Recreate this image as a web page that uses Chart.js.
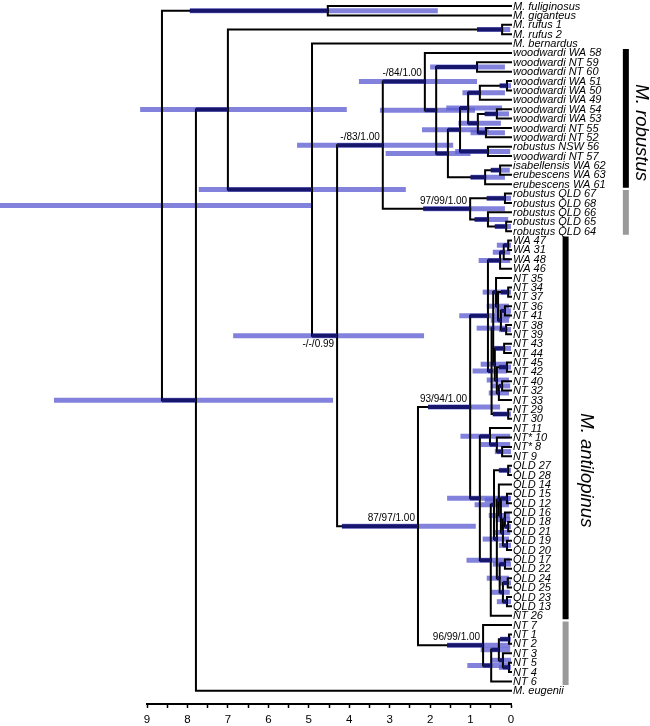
<!DOCTYPE html>
<html><head><meta charset="utf-8">
<script src="https://cdn.jsdelivr.net/npm/chart.js@4.4.0/dist/chart.umd.min.js"></script>
<style>html,body{margin:0;padding:0;background:#fff;}#wrap{width:650px;height:726px;position:relative;}</style>
</head><body><div id="wrap"><canvas id="c" width="650" height="726"></canvas></div>
<script>
// ---------------- DATA ----------------
const tipLabels = [
 'M. fuliginosus','M. giganteus','M. rufus 1','M. rufus 2','M. bernardus',
 'woodwardi WA 58','woodwardi NT 59','woodwardi NT 60','woodwardi WA 51','woodwardi WA 50',
 'woodwardi WA 49','woodwardi WA 54','woodwardi WA 53','woodwardi NT 55','woodwardi NT 52',
 'robustus NSW 56','woodwardi NT 57','isabellensis WA 62','erubescens WA 63','erubescens WA 61',
 'robustus QLD 67','robustus QLD 68','robustus QLD 66','robustus QLD 65','robustus QLD 64',
 'WA 47','WA 31','WA 48','WA 46',
 'NT 35','NT 34','NT 37','NT 36','NT 41','NT 38','NT 39','NT 43','NT 44','NT 45','NT 42','NT 40','NT 32','NT 33','NT 29','NT 30',
 'NT 11','NT* 10','NT* 8','NT 9',
 'QLD 27','QLD 28','QLD 14','QLD 15','QLD 12','QLD 16','QLD 18','QLD 21','QLD 19','QLD 20','QLD 17','QLD 22','QLD 24','QLD 25','QLD 23','QLD 13',
 'NT 26','NT 7','NT 1','NT 2','NT 3','NT 5','NT 4','NT 6','M. eugenii'
];
const nodeNames = ['root','fg','n196','b','ruf','c','d','e','g','h',
 'i','k','l','m','m1','m11','p','p1','p2','n',
 'er','er1','q','q1','q2','q21','f','a1','u','wac',
 'wa1','wa2','nta','ntb','ntg','na5','na1','na4','na2','na3',
 'nth','nb1','nb5','nb2','nb4','nb3','ntc','w','v','v1',
 'v2','y','qc','q27','r2','r3','r3b','q1512','r3c','r3d',
 'q1821','q1920','r4','q1722','r4b','q2425','q2313','a2','b2','x',
 'nt12','x2','x21'];
const nodeChildren = [['fg','n196'],[0,1],['b',73],['ruf','c'],[2,3],[4,'d'],['e','f'],['g','q'],[5,'h'],['i','k'],
 [6,7],['l','er'],['m','n'],['m1','p'],['m11',10],[8,9],['p1','p2'],[11,12],[13,14],[15,16],
 ['er1',19],[17,18],['q1','q2'],[20,21],[22,'q21'],[23,24],['a1','a2'],['u','w'],['wac','nta'],['wa1',28],
 ['wa2',27],[25,26],['ntb','ntc'],['ntg','nth'],[29,'na5'],['na1','na4'],[30,31],['na2','na3'],[32,33],[34,35],
 ['nb1','nb5'],[36,37],['nb2','nb4'],[38,39],['nb3',42],[40,41],[43,44],['v','y'],[45,'v1'],[46,'v2'],
 [47,48],['qc',65],['q27','r2'],[49,50],['r3','r4'],[51,'r3b'],['q1512','r3c'],[52,53],['r3d','q1920'],[54,'q1821'],
 [55,56],[57,58],['q1722','r4b'],[59,60],['q2425','q2313'],[61,62],[63,64],[66,'b2'],['x',72],['nt12','x2'],
 [67,68],[69,'x21'],[70,71]];
const nodeAges = [8.63,4.53,7.79,7.00,0.22,4.92,4.30,3.17,2.13,1.85,
 0.84,1.56,1.26,1.06,0.77,0.10,0.82,0.35,0.62,0.57,
 0.64,0.27,1.01,0.15,0.57,0.12,2.30,1.01,0.57,0.27,
 0.18,0.07,0.48,0.44,0.37,0.32,0.07,0.25,0.15,0.12,
 0.40,0.17,0.35,0.10,0.30,0.22,0.07,0.77,0.52,0.35,
 0.22,0.50,0.42,0.07,0.35,0.30,0.25,0.10,0.20,0.15,
 0.07,0.10,0.28,0.15,0.20,0.08,0.10,0.69,0.49,0.30,
 0.05,0.20,0.05];
const hpdOlder = [12.64,7.94,11.30,9.17,0.84,7.72,6.87,5.29,3.76,3.24,
 2.00,3.10,2.20,1.60,1.20,0.28,1.30,0.65,1.00,1.38,
 1.00,0.50,2.17,0.60,0.90,0.40,4.18,2.05,1.28,0.80,
 0.45,0.35,0.95,0.85,0.70,0.60,0.25,0.50,0.40,0.30,
 0.75,0.45,0.60,0.30,0.55,0.50,0.45,1.58,1.25,0.75,
 0.40,1.10,0.90,0.30,0.70,0.65,0.55,0.35,0.45,0.38,
 0.25,0.30,0.60,0.45,0.50,0.30,0.35,1.58,1.08,0.75,
 0.27,0.50,0.30];
const hpdYounger = [4.92,1.81,4.40,4.06,0.02,2.60,2.15,1.43,0.84,0.89,
 0.15,1.00,0.55,0.22,0.15,0.00,0.25,0.05,0.15,0.02,
 0.15,0.03,0.15,0.00,0.07,0.00,0.87,0.27,0.02,0.02,
 0.02,0.00,0.10,0.10,0.08,0.05,0.00,0.05,0.00,0.00,
 0.08,0.00,0.05,0.00,0.05,0.02,0.00,0.02,0.02,0.02,
 0.00,0.02,0.05,0.00,0.05,0.05,0.03,0.00,0.02,0.02,
 0.00,0.00,0.05,0.00,0.03,0.00,0.00,0.02,0.02,0.02,
 0.00,0.00,0.00];
const supportNodes = ['g','e','q','d','a1','f','a2'];
const supportTexts = ['-/84/1.00','-/83/1.00','97/99/1.00','-/-/0.99','93/94/1.00','87/97/1.00','96/99/1.00'];
const supportBelow = [false,false,false,true,false,false,false];
const cladeNames = ['M. robustus','M. antilopinus'];
const cladeBlackTips = [[5,19],[25,65]];
const cladeGreyTips = [[20,24],[66,72]];
const axisMajorTicks = [9,8,7,6,5,4,3,2,1,0];
const axisMinorTicks = [8.5,7.5,6.5,5.5,4.5,3.5,2.5,1.5,0.5];

// ---------------- LAYOUT (styles / positions) ----------------
const cladeBarX = [-2.84,-1.35];
const cladeTextX = [-3.08,-1.73];
const cladeTextY = [13.5,49.5];
const BAR_COL = 'rgba(95,95,212,0.78)';
const NAVY = '#16166c';
const FONT = "'Liberation Sans', Arial, sans-serif";

const idx = {}; nodeNames.forEach((n,i)=>idx[n]=i);
const yMemo = {};
function yOf(c){ if (typeof c === 'number') return c; if (yMemo[c]!==undefined) return yMemo[c];
  const ch = nodeChildren[idx[c]]; const v = (yOf(ch[0]) + yOf(ch[ch.length-1]))/2; yMemo[c]=v; return v; }
function ageOf(c){ return typeof c === 'number' ? 0 : nodeAges[idx[c]]; }
const parentOf = {};
nodeChildren.forEach((ch,i)=>ch.forEach(c=>{ if (typeof c==='string') parentOf[c]=nodeNames[i]; }));

const base = {showLine:true, pointRadius:0, pointHoverRadius:0, fill:false, tension:0, clip:false};
const datasets = [];
// HPD bars
nodeNames.forEach((n,i)=>{
  const y = yOf(n);
  datasets.push(Object.assign({}, base, {order:3, borderColor:BAR_COL, borderWidth:5, borderCapStyle:'butt',
    data:[{x:hpdOlder[i], y},{x:hpdYounger[i], y}]}));
});
// branches
nodeNames.forEach((n,i)=>{
  const ch = nodeChildren[i], a = nodeAges[i];
  const c1 = ch[0], c2 = ch[ch.length-1];
  datasets.push(Object.assign({}, base, {order:2, borderColor:'#000', borderWidth:2, borderCapStyle:'square', borderJoinStyle:'miter',
    data:[{x:ageOf(c1), y:yOf(c1)},{x:a, y:yOf(c1)},{x:a, y:yOf(c2)},{x:ageOf(c2), y:yOf(c2)}]}));
});
// branch part lying inside the node's HPD interval
nodeNames.forEach((n,i)=>{
  const p = parentOf[n]; if (!p) return;
  const left = Math.min(nodeAges[idx[p]], hpdOlder[i]);
  if (left <= nodeAges[i]) return;
  datasets.push(Object.assign({}, base, {order:1, borderColor:NAVY, borderWidth:4, borderCapStyle:'butt',
    data:[{x:left, y:yOf(n)},{x:nodeAges[i], y:yOf(n)}]}));
});
// clade bars
cladeNames.forEach((c,k)=>{
  const b = cladeBlackTips[k], g = cladeGreyTips[k];
  datasets.push(Object.assign({}, base, {order:1, borderColor:'#000', borderWidth:6, borderCapStyle:'butt',
    data:[{x:cladeBarX[k], y:b[0]-0.42},{x:cladeBarX[k], y:b[1]+0.38}]}));
  datasets.push(Object.assign({}, base, {order:1, borderColor:'#9a9a9a', borderWidth:6, borderCapStyle:'butt',
    data:[{x:cladeBarX[k], y:g[0]-0.38},{x:cladeBarX[k], y:g[1]+0.38}]}));
});

const textPlugin = {
  id:'treeText',
  afterDraw(chart){
    const ctx = chart.ctx, xs = chart.scales.x, ys = chart.scales.y;
    ctx.save();
    ctx.fillStyle = '#000';
    ctx.font = 'italic 11px ' + FONT;
    ctx.textAlign = 'left'; ctx.textBaseline = 'middle';
    const x0 = xs.getPixelForValue(0) + 2;
    tipLabels.forEach((t,i)=>ctx.fillText(t, x0, ys.getPixelForValue(i) + 0.5));
    ctx.font = '10px ' + FONT;
    ctx.textAlign = 'right';
    supportNodes.forEach((n,k)=>{
      const i = idx[n];
      const px = xs.getPixelForValue(nodeAges[i]) - 3, py = ys.getPixelForValue(yOf(n));
      if (supportBelow[k]) { ctx.textBaseline='top'; ctx.fillText(supportTexts[k], px, py + 4); }
      else { ctx.textBaseline='bottom'; ctx.fillText(supportTexts[k], px, py - 3); }
    });
    ctx.font = 'italic 18.5px ' + FONT;
    ctx.textAlign = 'center'; ctx.textBaseline = 'alphabetic';
    cladeNames.forEach((c,k)=>{
      ctx.save();
      ctx.translate(xs.getPixelForValue(cladeTextX[k]), ys.getPixelForValue(cladeTextY[k]));
      ctx.rotate(Math.PI/2);
      ctx.fillText(c, 0, 0);
      ctx.restore();
    });
    ctx.restore();
  }
};

new Chart(document.getElementById('c'), {
  type:'scatter',
  data:{datasets},
  options:{
    responsive:false, animation:false, devicePixelRatio:1, events:[],
    layout:{padding:{left:147,right:139,top:0,bottom:0}},
    plugins:{legend:{display:false}, tooltip:{enabled:false}},
    scales:{
      x:{type:'linear', min:0, max:9, reverse:true, position:'bottom',
         afterFit(s){ s.height = 22; },
         afterBuildTicks(s){ s.ticks = axisMajorTicks.concat(axisMinorTicks).sort((a,b)=>a-b).map(v=>({value:v})); },
         ticks:{autoSkip:false, maxRotation:0, padding:5, color:'#000', font:{family:FONT, size:11.5},
           callback:(v)=> axisMajorTicks.includes(v) ? String(v) : ''},
         grid:{drawOnChartArea:false, drawTicks:true, tickLength:4, tickColor:'#000', tickWidth:1.5},
         border:{display:true, color:'#000', width:2}},
      y:{type:'linear', display:false, min:-0.64, max:74.41, reverse:true}
    }
  },
  plugins:[textPlugin]
});
</script></body></html>
